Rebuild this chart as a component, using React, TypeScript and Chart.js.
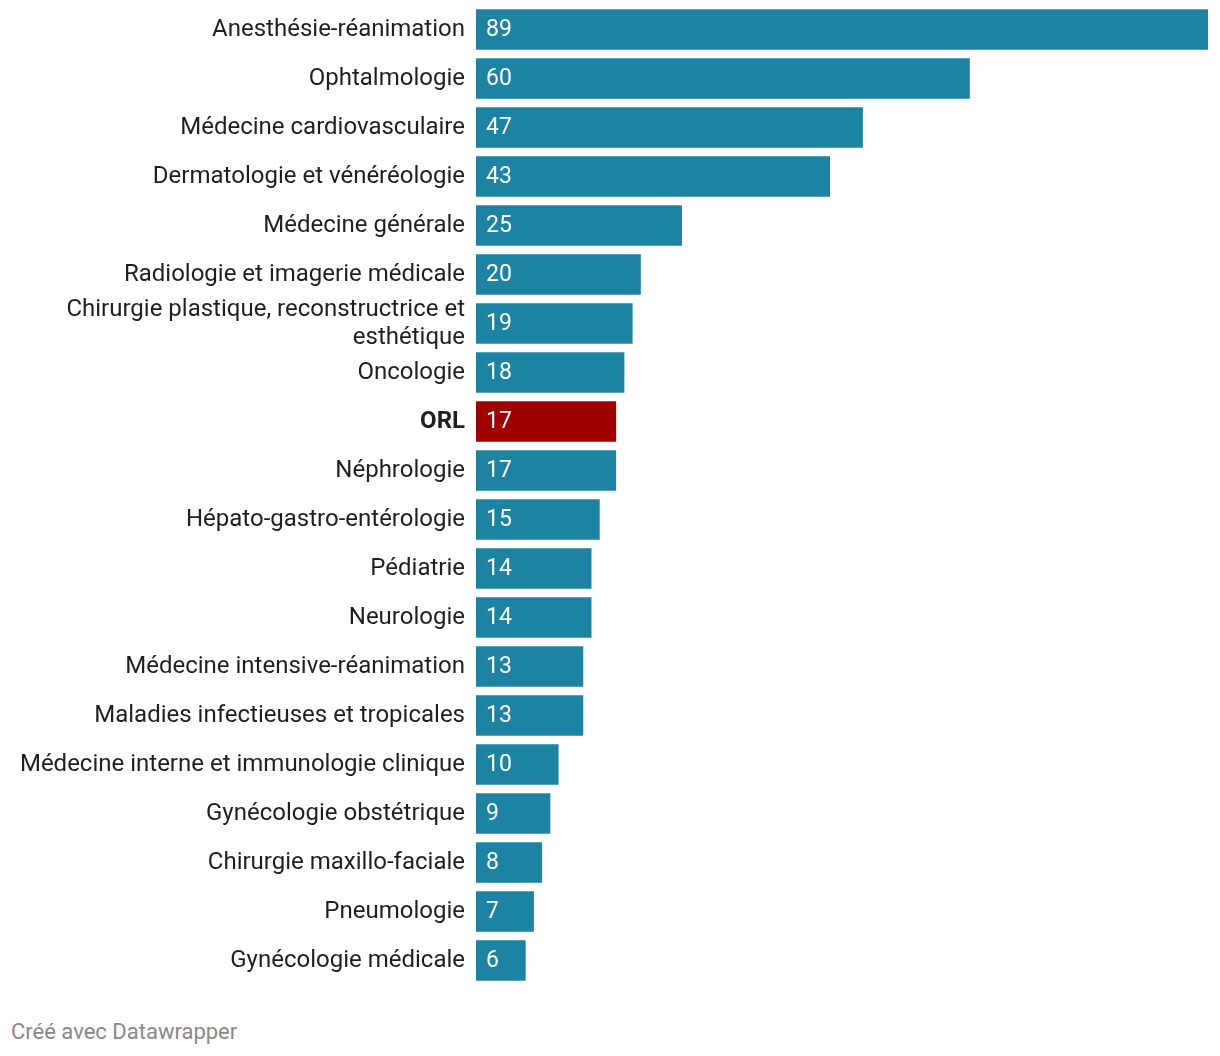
import React, { useEffect, useRef } from "react";
import { Chart, registerables } from "chart.js";

Chart.register(...registerables);

const categories: (string | string[])[] = [
  "Anesthésie-réanimation",
  "Ophtalmologie",
  "Médecine cardiovasculaire",
  "Dermatologie et vénéréologie",
  "Médecine générale",
  "Radiologie et imagerie médicale",
  ["Chirurgie plastique, reconstructrice et", "esthétique"],
  "Oncologie",
  "ORL",
  "Néphrologie",
  "Hépato-gastro-entérologie",
  "Pédiatrie",
  "Neurologie",
  "Médecine intensive-réanimation",
  "Maladies infectieuses et tropicales",
  "Médecine interne et immunologie clinique",
  "Gynécologie obstétrique",
  "Chirurgie maxillo-faciale",
  "Pneumologie",
  "Gynécologie médicale",
];

const values: number[] = [89, 60, 47, 43, 25, 20, 19, 18, 17, 17, 15, 14, 14, 13, 13, 10, 9, 8, 7, 6];

const highlighted: string = "ORL";

const BLUE = "#1d83a2";
const RED = "#a00000";
const FONT = "Roboto, 'Noto Sans', sans-serif";

const valueLabels = {
  id: "valueLabels",
  afterDatasetsDraw(chart: any) {
    const ctx = chart.ctx;
    const meta = chart.getDatasetMeta(0);
    ctx.save();
    ctx.fillStyle = "#ffffff";
    ctx.font = `23px ${FONT}`;
    ctx.textAlign = "left";
    ctx.textBaseline = "middle";
    meta.data.forEach((bar: any, i: number) => {
      const v = chart.data.datasets[0].data[i];
      ctx.fillText(String(v), bar.base + 10, bar.y + 1);
    });
    ctx.restore();
  },
};

export default function App() {
  const ref = useRef<HTMLCanvasElement>(null);

  useEffect(() => {
    document.body.style.margin = "0";
    const isHi = (i: number) => categories[i] === highlighted;
    const chart = new Chart(ref.current!, {
      type: "bar",
      data: {
        labels: categories as any,
        datasets: [
          {
            data: values,
            backgroundColor: values.map((_, i) => (isHi(i) ? RED : BLUE)),
            barThickness: 40,
            borderWidth: 0,
          },
        ],
      },
      plugins: [valueLabels],
      options: {
        indexAxis: "y",
        animation: false,
        responsive: false,
        maintainAspectRatio: false,
        layout: { padding: { top: 0, bottom: 0, left: 0, right: 12 } },
        plugins: {
          legend: { display: false },
          tooltip: { enabled: false },
          title: { display: false },
        },
        scales: {
          x: {
            min: 0,
            max: 89,
            display: false,
          },
          y: {
            grid: { display: false, drawTicks: false },
            border: { display: false },
            afterFit: (scale: any) => {
              scale.width = 476;
            },
            ticks: {
              padding: 11,
              autoSkip: false,
              color: "#1f1f1f",
              font: (c: any) => ({
                family: FONT,
                size: 24,
                lineHeight: "28px",
                weight: c.index !== undefined && isHi(c.index) ? "bold" : "normal",
              }),
            },
          },
        },
      },
    });
    return () => chart.destroy();
  }, []);

  return (
    <div style={{ position: "relative", width: 1220, height: 1056, overflow: "hidden", fontFamily: FONT }}>
      <canvas
        ref={ref}
        width={1220}
        height={1030}
        style={{ display: "block", position: "absolute", left: 0, top: -20 }}
      />
      <div
        style={{
          position: "absolute",
          left: 11,
          top: 1019,
          fontSize: 22,
          color: "#888888",
          fontFamily: FONT,
        }}
      >
        Créé avec Datawrapper
      </div>
    </div>
  );
}
